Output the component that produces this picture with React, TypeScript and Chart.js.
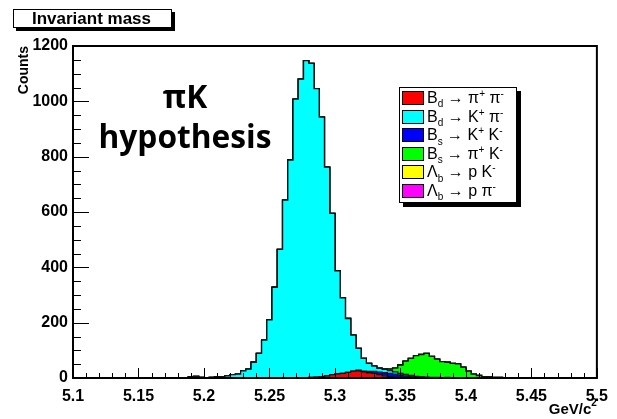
import React, { useEffect, useRef } from "react";
import { Chart, registerables } from "chart.js";
Chart.register(...registerables);

// Histogram binning: 100 bins of 0.004 GeV from 5.1 to 5.5
const BIN_START = 5.1;
const BIN_WIDTH = 0.004;
const X_MIN = 5.1;
const X_MAX = 5.5;
const Y_MIN = 0;
const Y_MAX = 1200;

// B_d -> pi+ pi- (red)
const bdPiPi = [
  0, 0, 0, 0, 0, 0, 0, 0, 0, 0,
  0, 0, 0, 0, 0, 0, 0, 0, 0, 0,
  0, 0, 0, 0, 0, 0, 0, 0, 0, 0,
  0, 0, 0, 0, 0, 0, 0, 0, 0, 0,
  0, 0, 0, 0, 1, 2, 3, 5, 8, 12,
  15, 17, 20, 25, 26, 22, 19, 17, 12, 8,
  5, 3, 2, 1, 0, 0, 0, 0, 0, 0,
  0, 0, 0, 0, 0, 0, 0, 0, 0, 0,
  0, 0, 0, 0, 0, 0, 0, 0, 0, 0,
  0, 0, 0, 0, 0, 0, 0, 0, 0, 0,
];

// B_d -> K+ pi- (cyan)
const bdKPi = [
  0, 0, 0, 0, 0, 0, 0, 0, 0, 0,
  0, 0, 0, 0, 0, 0, 0, 0, 0, 0,
  0, 1, 4, 6, 2, 1, 2, 4, 5, 8,
  12, 14, 26, 32, 57, 89, 137, 210, 328, 465,
  643, 788, 1008, 1080, 1146, 1135, 1043, 938, 754, 583,
  372, 273, 195, 130, 79, 46, 29, 19, 14, 12,
  10, 8, 6, 5, 4, 3, 3, 2, 2, 2,
  1, 2, 1, 1, 1, 1, 0, 1, 0, 1,
  0, 1, 0, 0, 1, 0, 0, 0, 0, 0,
  0, 0, 0, 0, 0, 0, 0, 0, 0, 0,
];

// B_s -> K+ K- (blue)
const bsKK = [
  0, 0, 0, 0, 0, 0, 0, 0, 0, 0,
  0, 0, 0, 0, 0, 0, 0, 0, 0, 0,
  0, 0, 0, 0, 0, 0, 0, 0, 0, 0,
  0, 0, 0, 0, 0, 0, 0, 0, 0, 0,
  0, 0, 0, 0, 0, 0, 0, 0, 0, 0,
  0, 0, 0, 0, 2, 3, 5, 7, 9, 11,
  12, 11, 9, 7, 5, 3, 2, 1, 0, 0,
  0, 0, 0, 0, 0, 0, 0, 0, 0, 0,
  0, 0, 0, 0, 0, 0, 0, 0, 0, 0,
  0, 0, 0, 0, 0, 0, 0, 0, 0, 0,
];

// B_s -> pi+ K- (green)
const bsPiK = [
  0, 0, 0, 0, 0, 0, 0, 0, 0, 0,
  0, 0, 0, 0, 0, 0, 0, 0, 0, 0,
  0, 0, 0, 0, 0, 0, 0, 0, 0, 0,
  0, 0, 0, 0, 0, 0, 0, 0, 0, 0,
  0, 0, 0, 0, 0, 0, 0, 0, 0, 0,
  0, 0, 0, 0, 0, 0, 0, 0, 1, 2,
  5, 14, 30, 48, 62, 75, 80, 86, 76, 66,
  58, 55, 52, 50, 38, 24, 14, 8, 5, 3,
  2, 1, 1, 1, 0, 0, 0, 0, 0, 0,
  0, 0, 0, 0, 0, 0, 0, 0, 0, 0,
];

// Lambda_b -> p K- (yellow)
const lbPK = [
  0, 0, 0, 0, 0, 0, 0, 0, 0, 0,
  0, 0, 0, 0, 0, 0, 0, 0, 0, 0,
  0, 0, 0, 0, 0, 0, 0, 0, 0, 0,
  0, 0, 0, 0, 0, 0, 0, 0, 0, 0,
  0, 0, 0, 0, 0, 0, 0, 0, 0, 0,
  0, 0, 0, 0, 0, 0, 0, 0, 0, 0,
  0, 0, 0, 0, 0, 0, 0, 0, 0, 0,
  0, 0, 0, 0, 0, 0, 0, 0, 0, 0,
  0, 0, 0, 0, 0, 0, 0, 0, 0, 0,
  0, 0, 0, 0, 0, 0, 0, 0, 0, 0,
];

// Lambda_b -> p pi- (magenta)
const lbPPi = [
  0, 0, 0, 0, 0, 0, 0, 0, 0, 0,
  0, 0, 0, 0, 0, 0, 0, 0, 0, 0,
  0, 0, 0, 0, 0, 0, 0, 0, 0, 0,
  0, 0, 0, 0, 0, 0, 0, 0, 0, 0,
  0, 0, 0, 0, 0, 0, 0, 0, 0, 0,
  0, 0, 0, 0, 0, 0, 0, 0, 0, 0,
  0, 0, 0, 0, 0, 0, 0, 0, 0, 0,
  0, 0, 0, 0, 0, 0, 0, 0, 0, 0,
  0, 0, 0, 0, 0, 0, 0, 0, 0, 0,
  0, 0, 0, 0, 0, 0, 0, 0, 0, 0,
];

const xTickValues = [5.1, 5.15, 5.2, 5.25, 5.3, 5.35, 5.4, 5.45, 5.5];
const xTickLabels = ["5.1", "5.15", "5.2", "5.25", "5.3", "5.35", "5.4", "5.45", "5.5"];
const yTickValues = [0, 200, 400, 600, 800, 1000, 1200];
const yTickLabels = ["0", "200", "400", "600", "800", "1000", "1200"];

const TITLE = "Invariant mass";
const X_TITLE = "GeV/c";
const X_TITLE_SUP = "2";
const Y_TITLE = "Counts";
const NOTE_1 = "πK";
const NOTE_2 = "hypothesis";

type Part = [string, ("sub" | "sup")?];
const seriesLabels = [
  "B_d → π+ π-",
  "B_d → K+ π-",
  "B_s → K+ K-",
  "B_s → π+ K-",
  "Λ_b → p K-",
  "Λ_b → p π-",
];
const legendParts: Part[][] = [
  [["B"], ["d", "sub"], [" → π"], ["+", "sup"], [" π"], ["-", "sup"]],
  [["B"], ["d", "sub"], [" → K"], ["+", "sup"], [" π"], ["-", "sup"]],
  [["B"], ["s", "sub"], [" → K"], ["+", "sup"], [" K"], ["-", "sup"]],
  [["B"], ["s", "sub"], [" → π"], ["+", "sup"], [" K"], ["-", "sup"]],
  [["Λ"], ["b", "sub"], [" → p K"], ["-", "sup"]],
  [["Λ"], ["b", "sub"], [" → p π"], ["-", "sup"]],
];
const seriesColors = ["#ff0000", "#00ffff", "#0000ff", "#00ff00", "#ffff00", "#ff00ff"];
// stacking order (bottom to top) -> index into series
const stackOrder = [0, 2, 1, 3, 4, 5];
const seriesData = [bdPiPi, bdKPi, bsKK, bsPiK, lbPK, lbPPi];

const SANS = '"Liberation Sans", Arial, Helvetica, sans-serif';

function drawRich(ctx: CanvasRenderingContext2D, x: number, y: number, parts: Part[], size: number) {
  for (const [t, kind] of parts) {
    const s = kind ? Math.round(size * 0.62) : size;
    ctx.font = `${s}px ${SANS}`;
    const dy = kind === "sub" ? size * 0.28 : kind === "sup" ? -size * 0.38 : 0;
    ctx.fillText(t, x, y + dy);
    x += ctx.measureText(t).width;
  }
}

const decorPlugin = {
  id: "rootDecor",
  afterDraw(chart: any) {
    const { ctx, chartArea: a, scales } = chart;
    const xs = scales.x;
    const ys = scales.y;
    ctx.save();
    ctx.strokeStyle = "#000";
    ctx.fillStyle = "#000";
    // ticks drawn inside the frame
    ctx.lineWidth = 1;
    ctx.beginPath();
    for (let k = 0; k <= 40; k++) {
      const v = X_MIN + k * 0.01;
      const px = Math.round(xs.getPixelForValue(v)) + 0.5;
      const len = k % 5 === 0 ? 10 : 5;
      ctx.moveTo(px, a.bottom);
      ctx.lineTo(px, a.bottom - len);
    }
    for (let k = 0; k <= 24; k++) {
      const v = k * 50;
      const py = Math.round(ys.getPixelForValue(v)) + 0.5;
      const len = k % 4 === 0 ? 16 : 8;
      ctx.moveTo(a.left, py);
      ctx.lineTo(a.left + len, py);
    }
    ctx.stroke();
    // frame
    ctx.lineWidth = 2;
    ctx.strokeRect(a.left, a.top, a.right - a.left, a.bottom - a.top);

    // title box with shadow
    const tb = { x: 13, y: 9, w: 159, h: 19 };
    ctx.fillStyle = "#000";
    ctx.fillRect(tb.x + 3, tb.y + 3, tb.w, tb.h);
    ctx.fillStyle = "#fff";
    ctx.fillRect(tb.x, tb.y, tb.w, tb.h);
    ctx.lineWidth = 1;
    ctx.strokeStyle = "#000";
    ctx.strokeRect(tb.x + 0.5, tb.y + 0.5, tb.w - 1, tb.h - 1);
    ctx.fillStyle = "#000";
    ctx.font = `bold 17px ${SANS}`;
    ctx.textAlign = "center";
    ctx.textBaseline = "alphabetic";
    ctx.fillText(TITLE, tb.x + tb.w / 2 - 1, 24);

    // axis titles
    ctx.textAlign = "right";
    ctx.font = `bold 10px ${SANS}`;
    const supW = ctx.measureText(X_TITLE_SUP).width;
    ctx.fillText(X_TITLE_SUP, a.right, 406);
    ctx.font = `bold 15px ${SANS}`;
    ctx.fillText(X_TITLE, a.right - supW, 414);

    ctx.save();
    ctx.translate(28, a.top);
    ctx.rotate(-Math.PI / 2);
    ctx.textAlign = "right";
    ctx.font = `bold 14px ${SANS}`;
    ctx.fillText(Y_TITLE, 0, 0);
    ctx.restore();

    // annotation text
    ctx.textAlign = "center";
    const noteFont = '"Open Sans", "DejaVu Sans", sans-serif';
    ctx.font = `bold 30px ${noteFont}`;
    const w = ctx.measureText(NOTE_2).width;
    const fs = (30 * 173) / w;
    ctx.font = `bold ${fs.toFixed(1)}px ${noteFont}`;
    ctx.fillText(NOTE_1, 185, 108);
    ctx.fillText(NOTE_2, 185, 148);

    // legend
    const lg = { x: 399, y: 87, w: 118, h: 116 };
    ctx.fillStyle = "#000";
    ctx.fillRect(lg.x + 4, lg.y + 4, lg.w, lg.h);
    ctx.fillStyle = "#fff";
    ctx.fillRect(lg.x, lg.y, lg.w, lg.h);
    ctx.strokeStyle = "#000";
    ctx.lineWidth = 1;
    ctx.strokeRect(lg.x + 0.5, lg.y + 0.5, lg.w - 1, lg.h - 1);
    ctx.textAlign = "left";
    for (let i = 0; i < legendParts.length; i++) {
      const cy = 98 + i * 18.6;
      const by = Math.round(cy - 7);
      ctx.fillStyle = seriesColors[i];
      ctx.fillRect(402, by, 22, 14);
      ctx.strokeRect(402.5, by + 0.5, 21, 13);
      ctx.fillStyle = "#000";
      drawRich(ctx, 427, cy + 5, legendParts[i], 16);
    }
    ctx.restore();
  },
};

export default function App() {
  const ref = useRef<HTMLCanvasElement>(null);
  useEffect(() => {
    const canvas = ref.current;
    if (!canvas) return;
    const mk = (arr: number[]) => {
      const pts = arr.map((v, i) => ({ x: BIN_START + i * BIN_WIDTH, y: v }));
      pts.push({ x: X_MAX, y: arr[arr.length - 1] });
      return pts;
    };
    const datasets = stackOrder.map((si, k) => ({
      label: seriesLabels[si],
      data: mk(seriesData[si]),
      backgroundColor: seriesColors[si],
      borderColor: "#111",
      borderWidth: 1.3,
      pointRadius: 0,
      stepped: true as const,
      fill: k === 0 ? "origin" : "-1",
      tension: 0,
    }));
    const chart = new Chart(canvas, {
      type: "line",
      data: { datasets },
      options: {
        responsive: false,
        animation: false,
        devicePixelRatio: 1,
        layout: { padding: { left: 0, top: 46, right: 16, bottom: 0 } },
        plugins: {
          legend: { display: false },
          tooltip: { enabled: false },
          title: { display: false },
        },
        scales: {
          x: {
            type: "linear",
            min: X_MIN,
            max: X_MAX,
            grid: { display: false, drawTicks: false },
            border: { display: false },
            afterBuildTicks: (s: any) => {
              s.ticks = xTickValues.map((v) => ({ value: v }));
            },
            afterFit: (s: any) => {
              s.height = 41;
            },
            ticks: {
              autoSkip: false,
              maxRotation: 0,
              padding: 9,
              color: "#000",
              font: { family: SANS, size: 16, weight: "bold" },
              callback: (_v: any, i: number) => xTickLabels[i],
            },
          },
          y: {
            type: "linear",
            stacked: true,
            min: Y_MIN,
            max: Y_MAX,
            grid: { display: false, drawTicks: false },
            border: { display: false },
            afterBuildTicks: (s: any) => {
              s.ticks = yTickValues.map((v) => ({ value: v }));
            },
            afterFit: (s: any) => {
              s.width = 73;
            },
            ticks: {
              autoSkip: false,
              padding: 5,
              color: "#000",
              font: { family: SANS, size: 16, weight: "bold" },
              callback: (_v: any, i: number) => yTickLabels[i],
            },
          },
        },
      },
      plugins: [decorPlugin],
    } as any);
    return () => chart.destroy();
  }, []);
  return (
    <div style={{ position: "absolute", left: 0, top: 0, width: 617, height: 419, background: "#fff" }}>
      <canvas ref={ref} width={617} height={419} style={{ display: "block" }} />
    </div>
  );
}
